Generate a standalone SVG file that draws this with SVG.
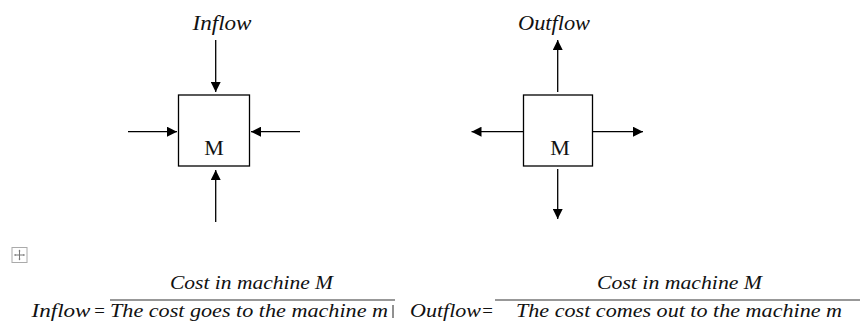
<svg xmlns="http://www.w3.org/2000/svg" width="860" height="329" viewBox="0 0 860 329">
  <defs>
    <marker id="head" viewBox="0 0 10 10" refX="10" refY="5" markerWidth="10" markerHeight="10" markerUnits="userSpaceOnUse" orient="auto">
      <path d="M0,0 L10,5 L0,10 Z" fill="#000"/>
    </marker>
    <style>
      .box { fill: #fff; stroke: #000; stroke-width: 1.3; }
      .flow { stroke: #000; stroke-width: 1.3; fill: none; marker-end: url(#head); }
      .lbl { font-family: "Liberation Serif", "Times New Roman", serif; font-style: italic; fill: #111; }
      .m { font-family: "Liberation Serif", "Times New Roman", serif; font-size: 22px; fill: #111; text-anchor: middle; }
      .bar { stroke: #333; stroke-width: 1.2; }
    </style>
  </defs>
  <rect width="860" height="329" fill="#fff"/>

  <!-- inflow machine -->
  <g id="inflow-title"><text class="lbl" x="192.5" y="30" font-size="20" textLength="59" lengthAdjust="spacingAndGlyphs">Inflow</text></g>
  <g id="machine-in">
    <rect class="box" x="178.5" y="95" width="71" height="71"/>
    <text class="m" x="214" y="155">M</text>
  </g>

  <!-- outflow machine -->
  <g id="outflow-title"><text class="lbl" x="518" y="30" font-size="20" textLength="72" lengthAdjust="spacingAndGlyphs">Outflow</text></g>
  <g id="machine-out">
    <rect class="box" x="523.5" y="95" width="69" height="71"/>
    <text class="m" x="560" y="155">M</text>
  </g>

  <g id="connectors">
    <!-- into M -->
    <line class="flow" x1="215.7" y1="40" x2="215.7" y2="92"/>
    <line class="flow" x1="128" y1="131.7" x2="177" y2="131.7"/>
    <line class="flow" x1="300" y1="131.7" x2="251" y2="131.7"/>
    <line class="flow" x1="215.7" y1="222" x2="215.7" y2="170"/>
    <!-- out of M -->
    <line class="flow" x1="557.7" y1="92" x2="557.7" y2="40"/>
    <line class="flow" x1="523" y1="131.7" x2="471.5" y2="131.7"/>
    <line class="flow" x1="593" y1="131.7" x2="643" y2="131.7"/>
    <line class="flow" x1="557.7" y1="169" x2="557.7" y2="219"/>
  </g>

  <!-- move handle -->
  <g id="handle">
    <rect x="12" y="247.5" width="15" height="15" fill="#fff" stroke="#aaa" stroke-width="1"/>
    <path d="M14.5,255 H24.5 M19.5,250 V260" stroke="#777" stroke-width="1"/>
    <path d="M18.4,251.2 L19.5,249.6 L20.6,251.2 Z M18.4,258.8 L19.5,260.4 L20.6,258.8 Z M15.7,253.9 L14.1,255 L15.7,256.1 Z M23.3,253.9 L24.9,255 L23.3,256.1 Z" fill="#777"/>
  </g>

  <!-- inflow ratio -->
  <g id="inflow-formula">
    <text class="lbl" x="31.5" y="317" font-size="19" textLength="59" lengthAdjust="spacingAndGlyphs">Inflow</text>
    <text class="lbl" x="93" y="317" font-size="19" font-style="normal">=</text>
    <text class="lbl" x="170" y="289" font-size="19" textLength="163" lengthAdjust="spacingAndGlyphs">Cost in machine M</text>
    <line class="bar" x1="110" y1="300" x2="395" y2="300"/>
    <text class="lbl" x="110" y="317" font-size="19" textLength="278" lengthAdjust="spacingAndGlyphs">The cost goes to the machine m</text>
    <line x1="393" y1="305" x2="393" y2="318" stroke="#222" stroke-width="1"/>
  </g>

  <!-- outflow ratio -->
  <g id="outflow-formula">
    <text class="lbl" x="410" y="317" font-size="19" textLength="71" lengthAdjust="spacingAndGlyphs">Outflow</text>
    <text class="lbl" x="481" y="317" font-size="19" font-style="normal">=</text>
    <text class="lbl" x="597" y="289" font-size="19" textLength="165" lengthAdjust="spacingAndGlyphs">Cost in machine M</text>
    <line class="bar" x1="495" y1="300" x2="860" y2="300"/>
    <text class="lbl" x="516" y="317" font-size="19" textLength="326" lengthAdjust="spacingAndGlyphs">The cost comes out to the machine m</text>
  </g>
</svg>
